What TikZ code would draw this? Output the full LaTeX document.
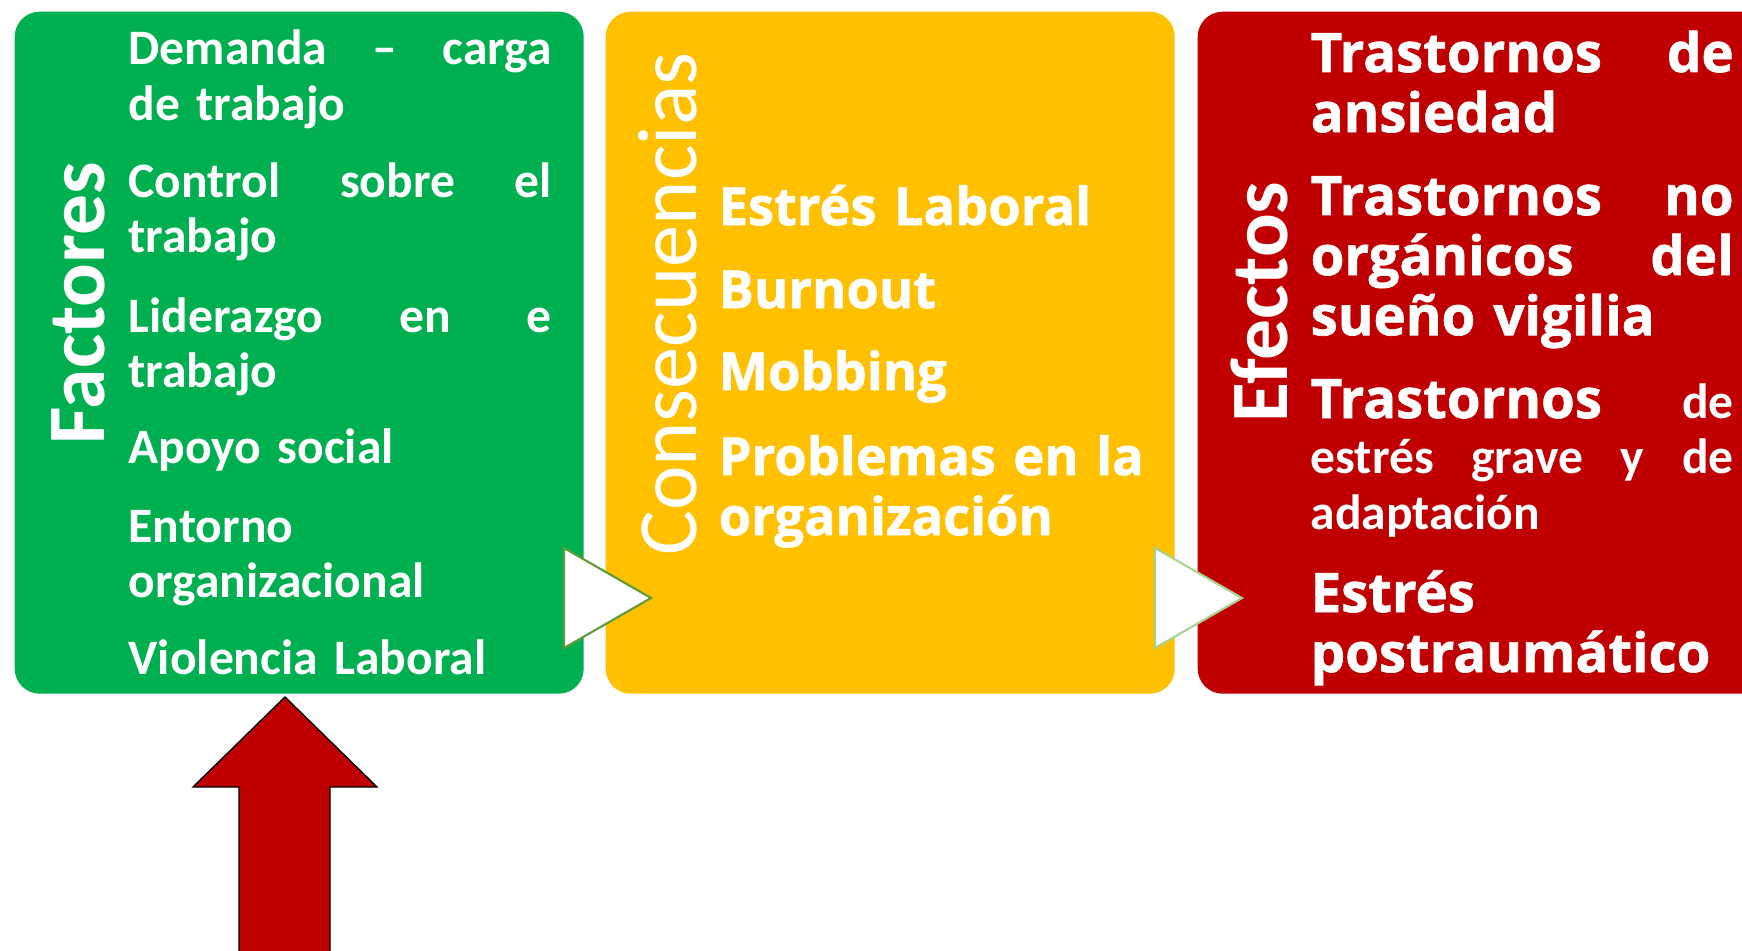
\documentclass[tikz,border=0pt]{standalone}
\usepackage{fontspec}
\setmainfont{Carlito}
\newfontfamily\heavyfamily{Open Sans}[BoldFeatures={FakeBold=1.2}]
\usetikzlibrary{positioning}
\definecolor{factgreen}{HTML}{00B050}
\definecolor{consyellow}{HTML}{FFC000}
\definecolor{efecred}{HTML}{C00000}
\definecolor{chevdark}{HTML}{5E9A3A}
\definecolor{chevlight}{HTML}{A9D18E}
\newcommand{\smallitem}{\fontsize{14.1}{15.8}\selectfont\bfseries}
\newcommand{\bigitem}{\heavyfamily\bfseries\fontsize{14.9}{17.1}\selectfont}
\newcommand{\efecitem}{\heavyfamily\bfseries\fontsize{15.5}{17.1}\selectfont}
\newcommand{\titletext}{\fontsize{23.2}{27}\selectfont}
\tikzset{
  panel/.style={rounded corners=0.25cm, inner sep=0pt, anchor=north west},
  item/.style={inner sep=0pt, text=white, text width=4.23cm, anchor=base west},
  miditem/.style={inner sep=0pt, text=white, text width=4.6cm, align=left, anchor=base west},
  paneltitle/.style={inner sep=0pt, text=white, rotate=90, anchor=base},
  chevron/.style={fill=white, line width=0.6pt, line join=miter},
  bigarrow/.style={fill=efecred, draw=black, line width=0.4pt, line join=miter}
}
\begin{document}
\begin{tikzpicture}
  \useasboundingbox (0,0) rectangle (17.42,-9.50);
  \clip (0,0) rectangle (17.42,-9.50);
  % panels
  \node[panel, fill=factgreen, minimum width=5.69cm, minimum height=6.82cm] (factbox) at (0.14,-0.11) {};
  \node[panel, fill=consyellow, minimum width=5.69cm, minimum height=6.82cm] (consbox) at (6.05,-0.11) {};
  \node[panel, fill=efecred, minimum width=6.50cm, minimum height=6.82cm] (efecbox) at (11.97,-0.11) {};
  % chevrons between panels
  \draw[chevron, draw=chevdark] (5.64,-5.48) -- (6.51,-5.98) -- (5.64,-6.48) -- cycle;
  \draw[chevron, draw=chevlight] (11.55,-5.48) -- (12.42,-5.98) -- (11.55,-6.48) -- cycle;
  % titles
  \node[paneltitle, font=\titletext\bfseries] (facttitle) at (1.04,-3.03) {Factores};
  \node[paneltitle, font=\fontsize{24}{28}\selectfont] (constitle) at (6.96,-3.04) {Consecuencias};
  \node[paneltitle, font=\titletext\bfseries] (efectitle) at (12.87,-3.02) {Efectos};
  % factores
  \node[item, font=\smallitem] (dem) at (1.28,-0.65) {Demanda\hfill –\hfill carga\\de trabajo};
  \node[item, font=\smallitem, below=1.32cm of dem.base west, anchor=base west] (ctl) {Control\hfill sobre\hfill el\\trabajo};
  \node[item, font=\smallitem, below=1.35cm of ctl.base west, anchor=base west] (lid) {Liderazgo\hfill en\hfill e\\trabajo};
  \node[item, font=\smallitem, below=1.31cm of lid.base west, anchor=base west] (apo) {Apoyo social};
  \node[item, font=\smallitem, below=0.79cm of apo.base west, anchor=base west] (ent) {Entorno\\organizacional};
  \node[item, font=\smallitem, below=1.32cm of ent.base west, anchor=base west] (vio) {Violencia Laboral};
  % consecuencias
  \node[miditem, font=\bigitem] (estres) at (7.18,-2.25) {Estrés Laboral};
  \node[miditem, font=\bigitem, below=0.83cm of estres.base west, anchor=base west] (burn) {Burnout};
  \node[miditem, font=\bigitem, below=0.82cm of burn.base west, anchor=base west] (mobb) {Mobbing};
  \node[miditem, font=\bigitem, below=0.85cm of mobb.base west, anchor=base west] (prob) {Problemas en la\\organización};
  % efectos
  \node[item, font=\efecitem] (ansi) at (13.10,-0.72) {Trastornos\hfill de\\ansiedad};
  \node[item, font=\efecitem, below=1.43cm of ansi.base west, anchor=base west] (sueno) {Trastornos\hfill no\\orgánicos\hfill del\\sueño vigilia};
  \node[item, font=\smallitem, below=2.03cm of sueno.base west, anchor=base west] (grave) {{\efecitem Trastornos}\hfill de\\estrés\hfill grave\hfill y\hfill de\\adaptación};
  \node[item, font=\efecitem, below=1.94cm of grave.base west, anchor=base west] (post) {Estrés\\postraumático};
  % arrow into factores
  \coordinate (tip) at (2.85,-6.97);
  \draw[bigarrow] (tip) -- (3.77,-7.87) -- (3.30,-7.87) -- (3.30,-9.70)
    -- (2.39,-9.70) -- (2.39,-7.87) -- (1.93,-7.87) -- cycle;
\end{tikzpicture}
\end{document}
